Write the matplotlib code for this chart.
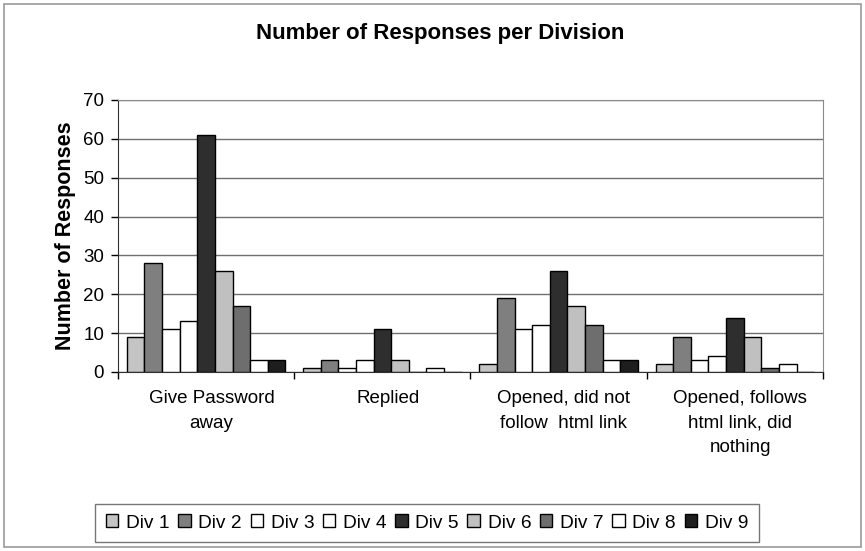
import numpy as np
import matplotlib
matplotlib.use("Agg")
import matplotlib.pyplot as plt
from matplotlib.patches import Rectangle

plt.rcParams['font.family'] = ['Liberation Sans', 'DejaVu Sans']

# responses per division for each outcome
categories = ["Give Password\naway", "Replied", "Opened, did not\nfollow  html link",
              "Opened, follows\nhtml link, did\nnothing"]
divisions = ["Div 1", "Div 2", "Div 3", "Div 4", "Div 5", "Div 6", "Div 7", "Div 8", "Div 9"]
div1 = [9, 1, 2, 2]
div2 = [28, 3, 19, 9]
div3 = [11, 1, 11, 3]
div4 = [13, 3, 12, 4]
div5 = [61, 11, 26, 14]
div6 = [26, 3, 17, 9]
div7 = [17, 0, 12, 1]
div8 = [3, 1, 3, 2]
div9 = [3, 0, 3, 0]
series = [div1, div2, div3, div4, div5, div6, div7, div8, div9]
colors = ["#c4c4c4", "#7f7f7f", "#ffffff", "#ffffff", "#2e2e2e",
          "#c0c0c0", "#6e6e6e", "#ffffff", "#1e1e1e"]

fig = plt.figure(figsize=(8.65, 5.51), dpi=100)
ax = fig.add_axes([118 / 865, 1 - 372 / 551, (823 - 118) / 865, (372 - 100) / 551])

# outer chart border
fig.patches.append(Rectangle((4 / 865, 4 / 551), 857 / 865, 543 / 551, transform=fig.transFigure,
                             fill=False, edgecolor="#9a9a9a", linewidth=1.2))

n = len(series)
width = 1.0 / (n + 1)
x = np.arange(len(categories))
for i, (vals, c, name) in enumerate(zip(series, colors, divisions)):
    offs = (i - (n - 1) / 2) * width
    ax.bar(x + offs, vals, width=width, color=c, edgecolor="black", linewidth=1.0,
           label=name, zorder=3)

ax.set_xlim(-0.5, len(categories) - 0.5)
ax.set_ylim(0, 70)
ax.set_yticks(range(0, 71, 10))
ax.yaxis.grid(True, color="#707070", linewidth=1.0, zorder=0)
ax.tick_params(axis="y", labelsize=13.5, length=5, width=1, direction="out", pad=5)

# category labels centred under groups, ticks between groups
ax.set_xticks(np.arange(-0.5, len(categories), 1.0))
ax.set_xticklabels([])
ax.tick_params(axis="x", length=5, width=1, direction="out")
for xi, lab in zip(x, categories):
    ax.text(xi + 0.03, -4.6, lab, ha="center", va="top", fontsize=13.5, linespacing=1.6)

for s in ["top", "right"]:
    ax.spines[s].set_color("#8a8a8a")
ax.spines["left"].set_color("#303030")
ax.spines["bottom"].set_color("#303030")

ax.set_ylabel("Number of Responses", fontsize=15.5, fontweight="bold", labelpad=5)
fig.text(440 / 865, 1 - 34 / 551, "Number of Responses per Division", ha="center", va="center",
         fontsize=16, fontweight="bold")

leg = fig.legend(loc="center", bbox_to_anchor=(427 / 865, 1 - 523 / 551), ncol=9, fontsize=13.8,
                 frameon=True, fancybox=False, edgecolor="#555555", handlelength=0.65,
                 handleheight=0.65, handletextpad=0.4, columnspacing=0.45, borderpad=0.55)
leg.get_frame().set_linewidth(1.0)

fig.savefig("out.png", dpi=100)
